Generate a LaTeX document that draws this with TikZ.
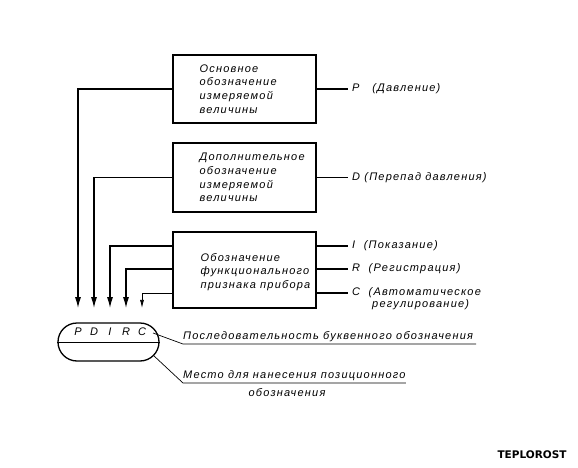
\documentclass[tikz,border=0pt]{standalone}
\usepackage{fontspec}
\setmainfont{Liberation Sans}
\newfontfamily\draftfont[LetterSpace=11]{Liberation Sans}
\newfontfamily\markfont{DejaVu Sans}
\usetikzlibrary{arrows.meta}
\begin{document}
\begin{tikzpicture}[x=1pt,y=-1pt,
  box/.style={draw,line width=1.2pt,minimum width=143pt,inner sep=0pt},
  txt/.style={font=\draftfont\itshape\fontsize{11}{13.6}\selectfont,inner sep=0pt,align=left},
  intxt/.style={txt,anchor=west},
  lbl/.style={txt,anchor=west,inner xsep=4pt},
  wire/.style={line width=1.2pt},
  arr/.style={line width=1.2pt,-{Latex[length=11pt,width=6pt]},shorten >=20pt},
  thinarr/.style={line width=0.7pt,-{Latex[length=8pt,width=4pt]},shorten >=20pt},
  leader/.style={line width=0.7pt}
]
\useasboundingbox[fill=white] (0,0) rectangle (578,468);

% boxes
\node[box,minimum height=68pt] (box1) at (244.5,89) {};
\node[box,minimum height=69pt] (box2) at (244.5,177.5) {};
\node[box,minimum height=76pt] (box3) at (244.5,270) {};
\node[intxt] (t1) at ([xshift=27pt]box1.west) {Основное\\обозначение\\измеряемой\\величины};
\node[intxt] (t2) at ([xshift=27pt]box2.west) {Дополнительное\\обозначение\\измеряемой\\величины};
\node[intxt] (t3) at ([xshift=28pt,yshift=-2pt]box3.west) {Обозначение\\функционального\\признака прибора};

% right labels
\node[lbl] (pP) at (348,89) {P\ \ \ (Давление)};
\node[lbl] (pD) at (348,177.5) {D\ (Перепад давления)};
\node[lbl] (pI) at (348,246) {I\ \ (Показание)};
\node[lbl] (pR) at (348,269) {R\ \ (Регистрация)};
\node[lbl] (pC) at (348,293) {C\ \ (Автоматическое};
\node[txt,anchor=west] (pC2) at (372,305) {регулирование)};

\draw[wire] (box1.east) -- (pP.west);
\draw[wire] (box2.east) -- (pD.west);
\draw[wire] ([yshift=24pt]box3.east) -- (pI.west);
\draw[wire] ([yshift=1pt]box3.east) -- (pR.west);
\draw[wire] ([yshift=-23pt]box3.east) -- (pC.west);

% position symbol
\node[draw,line width=1.3pt,rounded corners=19pt,minimum width=101pt,minimum height=38pt] (pos) at (108.5,342) {};
\draw[line width=1pt] (pos.west) -- (pos.east);
\node[txt] (lP) at (78,332) {P};
\node[txt] (lD) at (94,332) {D};
\node[txt] (lI) at (110,332) {I};
\node[txt] (lR) at (126,332) {R};
\node[txt] (lC) at (142,332) {C};

% arrows
\draw[arr] (box1.west) -| (lP);
\draw[arr] (box2.west) -| (lD);
\draw[arr] ([yshift=24pt]box3.west) -| (lI);
\draw[arr] ([yshift=1pt]box3.west) -| (lR);
\draw[thinarr] ([yshift=-23pt]box3.west) -| (lC);

% bottom labels
\node[txt,anchor=south west,inner ysep=2.5pt] (lab1) at (183,344) {Последовательность буквенного обозначения};
\node[txt,anchor=south west,inner ysep=2.5pt] (lab2) at (183,383) {Место для нанесения позиционного};
\node[txt] (lab2b) at (287,393) {обозначения};
\coordinate (s1) at ([shift={(44.5,-9)}]pos.center);
\coordinate (s2) at ([shift={(44.5,13)}]pos.center);
\draw[leader] (s1) -- (lab1.south west) -- ([xshift=3pt]lab1.south east);
\draw[leader] (s2) -- (lab2.south west) -- (lab2.south east);

% watermark
\node[font=\markfont\bfseries\fontsize{10.5}{10.5}\selectfont,inner sep=0pt] (wm) at (532,455) {TEPLOROST};
\end{tikzpicture}
\end{document}
